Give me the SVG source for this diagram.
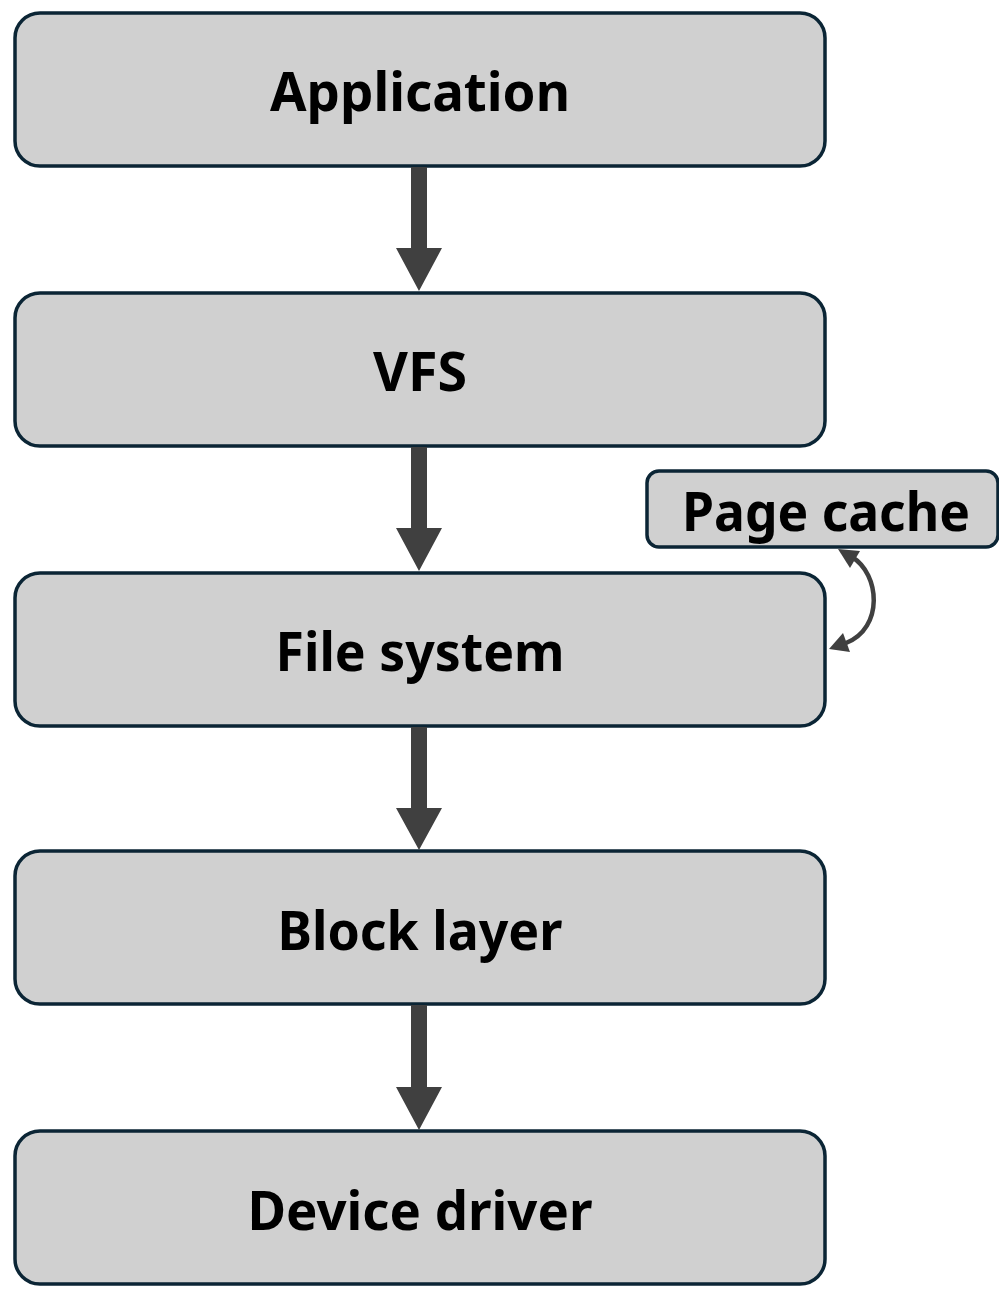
<svg xmlns="http://www.w3.org/2000/svg" width="999" height="1291" viewBox="0 0 999 1291">
<style>
.box{fill:#d0d0d0;stroke:#0b2535;stroke-width:3.5}
.lbl{font-family:"Noto Sans","Open Sans",sans-serif;font-weight:bold;font-size:53px;fill:#000;text-anchor:middle}
.shaft{fill:#404040}
</style>
<g id="n-application"><rect class="box" x="15" y="13" width="810" height="153" rx="25"/><text class="lbl" x="420" y="111" textLength="300" lengthAdjust="spacingAndGlyphs">Application</text></g>
<g id="n-vfs"><rect class="box" x="15" y="293" width="810" height="153" rx="25"/><text class="lbl" x="420" y="391" textLength="94" lengthAdjust="spacingAndGlyphs">VFS</text></g>
<g id="n-fs"><rect class="box" x="15" y="573" width="810" height="153" rx="25"/><text class="lbl" x="420" y="671" textLength="289" lengthAdjust="spacingAndGlyphs">File system</text></g>
<g id="n-block"><rect class="box" x="15" y="851" width="810" height="153" rx="25"/><text class="lbl" x="420" y="950" textLength="285" lengthAdjust="spacingAndGlyphs">Block layer</text></g>
<g id="n-driver"><rect class="box" x="15" y="1131" width="810" height="153" rx="25"/><text class="lbl" x="420" y="1230" textLength="345" lengthAdjust="spacingAndGlyphs">Device driver</text></g>
<g id="n-pagecache"><rect class="box" x="647" y="471" width="351" height="76" rx="12"/><text class="lbl" x="826" y="531" textLength="288" lengthAdjust="spacingAndGlyphs">Page cache</text></g>
<g id="connectors">
<path class="shaft" d="M411,167 H427 V248 H442 L419,291 L396,248 H411 Z"/>
<path class="shaft" d="M411,447 H427 V528 H442 L419,571 L396,528 H411 Z"/>
<path class="shaft" d="M411,727 H427 V808 H442 L419,850 L396,808 H411 Z"/>
<path class="shaft" d="M411,1005 H427 V1087 H442 L419,1130 L396,1087 H411 Z"/>
<path d="M852,557 C880,574 884,628 846,643" fill="none" stroke="#404040" stroke-width="4.5"/>
<path class="shaft" d="M838,549 L860,551 L850,568 Z"/>
<path class="shaft" d="M829,649 L843,633 L850,652 Z"/>
</g>
</svg>
